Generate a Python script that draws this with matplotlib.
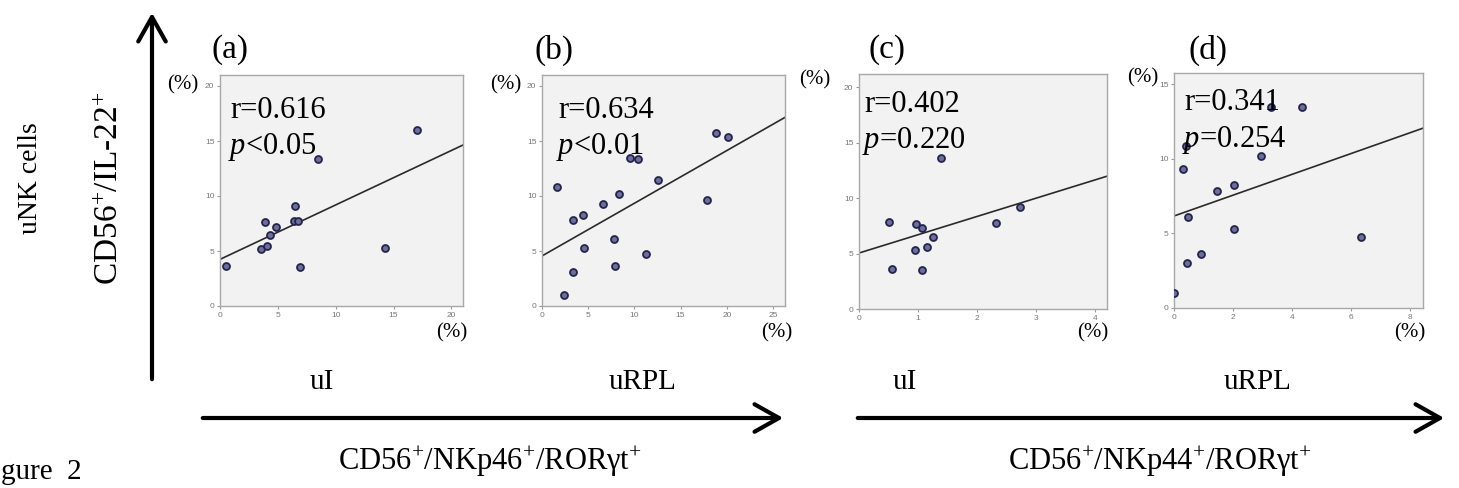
import numpy as np
import matplotlib
matplotlib.use("Agg")
import matplotlib.pyplot as plt
from matplotlib.patches import FancyArrowPatch

plt.rcParams['font.family'] = ['Liberation Serif', 'DejaVu Serif']
plt.rcParams['mathtext.fontset'] = 'custom'
plt.rcParams['mathtext.rm'] = 'Liberation Serif'
plt.rcParams['mathtext.it'] = 'Liberation Serif:italic'

# ---- data ----
panel_tags = ['(a)', '(b)', '(c)', '(d)']
r_labels = ['r=0.616', 'r=0.634', 'r=0.402', 'r=0.341']
p_labels = ['$\\it{p}$<0.05', '$\\it{p}$<0.01', '$\\it{p}$=0.220', '$\\it{p}$=0.254']

a_x = [0.5, 3.5, 4.1, 3.9, 4.3, 4.8, 6.5, 6.4, 6.7, 6.9, 14.3, 8.5, 17.0]
a_y = [3.6, 5.2, 5.5, 7.6, 6.45, 7.2, 9.1, 7.7, 7.75, 3.55, 5.25, 13.4, 16.0]

b_x = [1.6, 3.4, 4.4, 6.6, 8.3, 9.5, 10.4, 12.6, 17.9, 18.8, 20.1, 4.5, 7.8, 7.9, 11.3, 3.4, 2.4]
b_y = [10.8, 7.8, 8.3, 9.3, 10.2, 13.5, 13.4, 11.45, 9.6, 15.7, 15.35, 5.3, 6.05, 3.65, 4.75, 3.05, 1.0]

c_x = [0.5, 0.96, 1.06, 1.25, 1.16, 0.95, 0.56, 1.06, 2.32, 2.73, 1.39]
c_y = [7.85, 7.7, 7.3, 6.5, 5.6, 5.3, 3.65, 3.55, 7.8, 9.2, 13.6]

d_x = [0.46, 2.02, 0.9, 0.45, 0.0, 6.35, 0.29, 1.45, 2.02, 2.95, 3.29, 4.36, 0.41]
d_y = [6.1, 5.3, 3.6, 3.05, 1.0, 4.75, 9.35, 7.85, 8.25, 10.2, 13.45, 13.5, 10.85]

# fit lines (intercept, slope) as drawn in the figure
fit_lines = [(4.24, 0.495), (4.55, 0.479), (5.05, 1.65), (6.17, 0.697)]

x_limits = [21.0, 26.3, 4.2, 8.45]
y_limits = [21.0, 21.0, 21.2, 15.76]
x_ticks = [[0, 5, 10, 15, 20], [0, 5, 10, 15, 20, 25], [0, 1, 2, 3, 4], [0, 2, 4, 6, 8]]
y_ticks = [[0, 5, 10, 15, 20], [0, 5, 10, 15, 20], [0, 5, 10, 15, 20], [0, 5, 10, 15]]

group_labels = ['uI', 'uRPL', 'uI', 'uRPL']
bottom_labels = ['CD56$^{+}$/NKp46$^{+}$/RORγt$^{+}$', 'CD56$^{+}$/NKp44$^{+}$/RORγt$^{+}$']

xs = [a_x, b_x, c_x, d_x]
ys = [a_y, b_y, c_y, d_y]

# ---- layout (pixels) ----
W, H = 1459, 488
boxes = [(220, 463, 75, 306), (542, 785, 75, 306), (859, 1107, 74, 309), (1174, 1423, 73, 308)]
tag_pos = [(230, 50), (554, 50), (887, 50), (1208, 50)]
rtext_pos = [(230, 110), (558, 110), (864, 104), (1184, 102)]
ptext_pos = [(228, 147), (556, 147), (862, 141), (1182, 140)]
ypct_pos = [(183, 85), (506, 85), (815, 80), (1143, 78)]
xpct_pos = [(452, 333), (777, 333), (1093, 333), (1410, 333)]
group_pos = [(322, 382), (643, 382), (905, 382), (1258, 382)]


def fx(x):
    return x / W


def fy(y):
    return 1 - y / H


fig = plt.figure(figsize=(W / 100, H / 100), dpi=100)

for i in range(4):
    l, r, t, b = boxes[i]
    ax = fig.add_axes([fx(l), fy(b), (r - l) / W, (b - t) / H])
    ax.set_facecolor('#f2f2f2')
    for s in ax.spines.values():
        s.set_color('#a8a8a8')
        s.set_linewidth(1.0)
    ax.set_xlim(0, x_limits[i])
    ax.set_ylim(0, y_limits[i])
    ax.set_xticks(x_ticks[i])
    ax.set_yticks(y_ticks[i])
    ax.tick_params(length=2.5, width=0.8, color='#999999', labelsize=6,
                   labelcolor='#777777', pad=1.5)
    for lab in ax.get_xticklabels() + ax.get_yticklabels():
        lab.set_family('Liberation Sans')

    b0, m = fit_lines[i]
    xl = np.array([0, x_limits[i]])
    ax.plot(xl, b0 + m * xl, color='#2a2a2a', lw=1.2, zorder=2)
    ax.plot(xs[i], ys[i], 'o', ms=5, mfc='#6e6e9e', mec='#24244a', mew=1.3, zorder=3)

    fig.text(fx(tag_pos[i][0]), fy(tag_pos[i][1]), panel_tags[i], fontsize=24,
             ha='center', va='center')
    fig.text(fx(rtext_pos[i][0]), fy(rtext_pos[i][1]), r_labels[i], fontsize=22,
             ha='left', va='center')
    fig.text(fx(ptext_pos[i][0]), fy(ptext_pos[i][1]), p_labels[i], fontsize=22,
             ha='left', va='center')
    fig.text(fx(ypct_pos[i][0]), fy(ypct_pos[i][1]), '(%)', fontsize=15,
             ha='center', va='center')
    fig.text(fx(xpct_pos[i][0]), fy(xpct_pos[i][1]), '(%)', fontsize=15,
             ha='center', va='center')
    fig.text(fx(group_pos[i][0]), fy(group_pos[i][1]), group_labels[i], fontsize=21,
             ha='center', va='center')

# arrows
arrow_style = '->,head_length=0.8,head_width=0.45'
for (x0, y0, x1, y1) in [(152, 382, 152, 10), (200, 418, 786, 418), (855, 418, 1447, 418)]:
    fig.add_artist(FancyArrowPatch((fx(x0), fy(y0)), (fx(x1), fy(y1)),
                                   transform=fig.transFigure, arrowstyle=arrow_style,
                                   mutation_scale=22, lw=3, color='black'))

fig.text(fx(490), fy(462), bottom_labels[0], fontsize=22, ha='center', va='center')
fig.text(fx(1160), fy(462), bottom_labels[1], fontsize=22, ha='center', va='center')

fig.text(fx(110), fy(188), 'CD56$^{+}$/IL-22$^{+}$', fontsize=24, rotation=90,
         ha='center', va='center')
fig.text(fx(31), fy(178), 'uNK cells', fontsize=20, rotation=90,
         ha='center', va='center')
# the figure caption is cropped at the left edge of the source image
fig.text(fx(1), fy(479), 'gure  2', fontsize=21, ha='left', va='baseline')

fig.savefig('out.png', dpi=100)
